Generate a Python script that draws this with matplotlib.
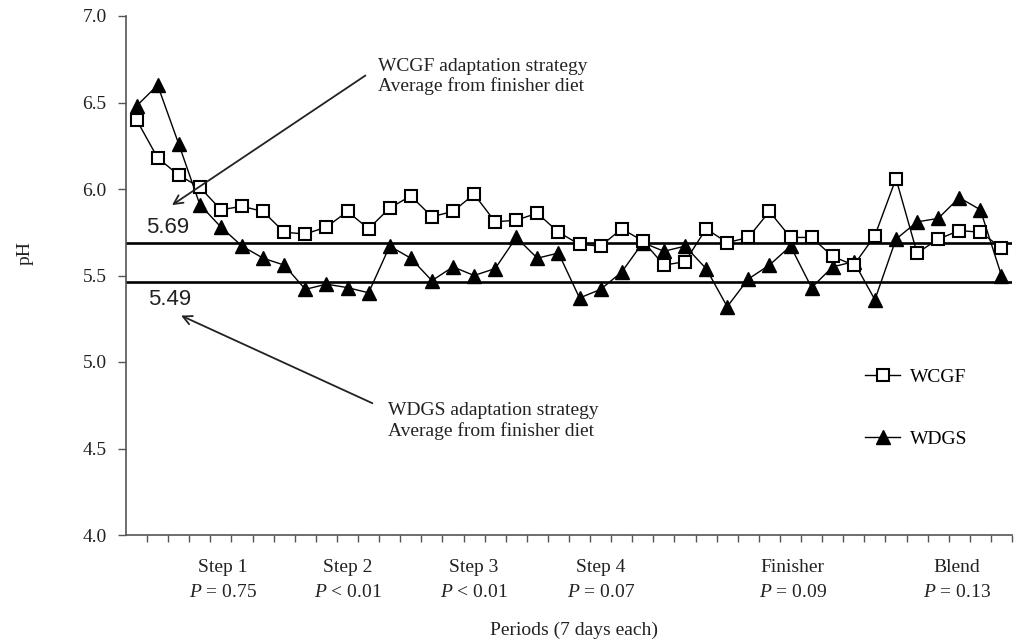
import numpy as np
import matplotlib
matplotlib.use("Agg")
import matplotlib.pyplot as plt
from matplotlib.lines import Line2D

plt.rcParams['font.family'] = ['Liberation Serif', 'DejaVu Serif']
plt.rcParams['mathtext.fontset'] = 'custom'
plt.rcParams['mathtext.it'] = 'Liberation Serif:italic'
plt.rcParams['mathtext.rm'] = 'Liberation Serif'

# pH per period (7 days each)
wcgf = [6.40, 6.18, 6.08, 6.01, 5.88, 5.90, 5.87, 5.75, 5.74, 5.78,
        5.87, 5.77, 5.89, 5.96, 5.84, 5.87, 5.97, 5.81, 5.82, 5.86,
        5.75, 5.68, 5.67, 5.77, 5.70, 5.56, 5.58, 5.77, 5.69, 5.72,
        5.87, 5.72, 5.72, 5.61, 5.56, 5.73, 6.06, 5.63, 5.71, 5.76,
        5.75, 5.66]
wdgs = [6.48, 6.60, 6.26, 5.91, 5.78, 5.67, 5.60, 5.56, 5.42, 5.45,
        5.43, 5.40, 5.67, 5.60, 5.47, 5.55, 5.50, 5.54, 5.72, 5.60,
        5.63, 5.37, 5.42, 5.52, 5.69, 5.64, 5.67, 5.54, 5.32, 5.48,
        5.56, 5.67, 5.43, 5.55, 5.58, 5.36, 5.71, 5.81, 5.83, 5.95,
        5.88, 5.50]
periods = np.arange(1, len(wcgf) + 1)

# finisher averages (label value, drawn level)
avg_wcgf, avg_wcgf_label = 5.69, "5.69"
avg_wdgs, avg_wdgs_label = 5.465, "5.49"

# diet phases along the x axis
phase_pos = [5.1, 11.0, 17.0, 23.0, 32.1, 39.9]
phase_names = ["Step 1", "Step 2", "Step 3", "Step 4", "Finisher", "Blend"]
phase_p = ["$P$ = 0.75", "$P$ < 0.01", "$P$ < 0.01", "$P$ = 0.07", "$P$ = 0.09", "$P$ = 0.13"]

fig = plt.figure(figsize=(10.16, 6.42), dpi=100)
ax = fig.add_axes([126/1016, 1 - 535/642, (1012 - 126)/1016, (535 - 16)/642])

ax.axhline(avg_wcgf, color='black', lw=1.9, zorder=1)
ax.axhline(avg_wdgs, color='black', lw=1.9, zorder=1)

ax.plot(periods, wcgf, color='black', lw=1.0, marker='s', ms=8.5,
        mfc='white', mec='black', mew=1.5, zorder=3)
ax.plot(periods, wdgs, color='black', lw=1.0, marker='^', ms=9.5,
        mfc='black', mec='black', zorder=2)

ax.set_xlim(0.5, 42.5)
ax.set_ylim(4.0, 7.0)
ax.set_yticks(np.arange(4.0, 7.01, 0.5))
ax.set_yticklabels([f"{v:.1f}" for v in np.arange(4.0, 7.01, 0.5)], fontsize=14, color='#222222')
ax.set_xticks(np.arange(1.5, 42.6, 1.0))
ax.set_xticklabels([])
ax.tick_params(axis='y', direction='out', length=6, width=1, color='#555555', pad=8)
ax.tick_params(axis='x', direction='out', length=5, width=1, color='#555555')
for s in ['top', 'right']:
    ax.spines[s].set_visible(False)
for s in ['left', 'bottom']:
    ax.spines[s].set_color('#555555')
    ax.spines[s].set_linewidth(1.2)

# average labels
ax.text(2.47, 5.777, avg_wcgf_label, family='Liberation Sans', fontsize=16,
        ha='center', va='center', color='#222222')
ax.text(2.57, 5.361, avg_wdgs_label, family='Liberation Sans', fontsize=16,
        ha='center', va='center', color='#222222')

# annotations
ax.annotate('', xy=(2.57, 5.898), xytext=(11.96, 6.665),
            arrowprops=dict(arrowstyle='->', lw=1.3, color='#222222', mutation_scale=16))
ax.text(12.44, 6.651, "WCGF adaptation strategy\nAverage from finisher diet",
        fontsize=14, ha='left', va='center', linespacing=1.2, color='#222222')
ax.annotate('', xy=(2.99, 5.275), xytext=(12.3, 4.755),
            arrowprops=dict(arrowstyle='->', lw=1.3, color='#222222', mutation_scale=16))
ax.text(12.91, 4.660, "WDGS adaptation strategy\nAverage from finisher diet",
        fontsize=14, ha='left', va='center', linespacing=1.2, color='#222222')

# phase labels below axis
for x, name, p in zip(phase_pos, phase_names, phase_p):
    ax.text(x, 3.815, name, fontsize=14, ha='center', va='center', clip_on=False, color='#222222')
    ax.text(x, 3.67, p, fontsize=14, ha='center', va='center', clip_on=False, color='#222222')

fig.text(574/1016, 1 - 630/642, "Periods (7 days each)", fontsize=14,
         ha='center', va='center', color='#222222')
fig.text(25/1016, 1 - 253/642, "pH", fontsize=14, rotation=90,
         ha='center', va='center', color='#222222')

handles = [Line2D([], [], color='black', lw=1.0, marker='s', ms=8.5, mfc='white', mec='black', mew=1.5),
           Line2D([], [], color='black', lw=1.0, marker='^', ms=9.5, mfc='black', mec='black')]
ax.legend(handles, ["WCGF", "WDGS"], loc='upper left', bbox_to_anchor=(865/1016, 1 - 368/642),
          bbox_transform=fig.transFigure, frameon=False, fontsize=14, handlelength=1.8,
          handletextpad=0.5, labelspacing=2.3, borderpad=0, borderaxespad=0)

fig.savefig("out.png", dpi=100)
